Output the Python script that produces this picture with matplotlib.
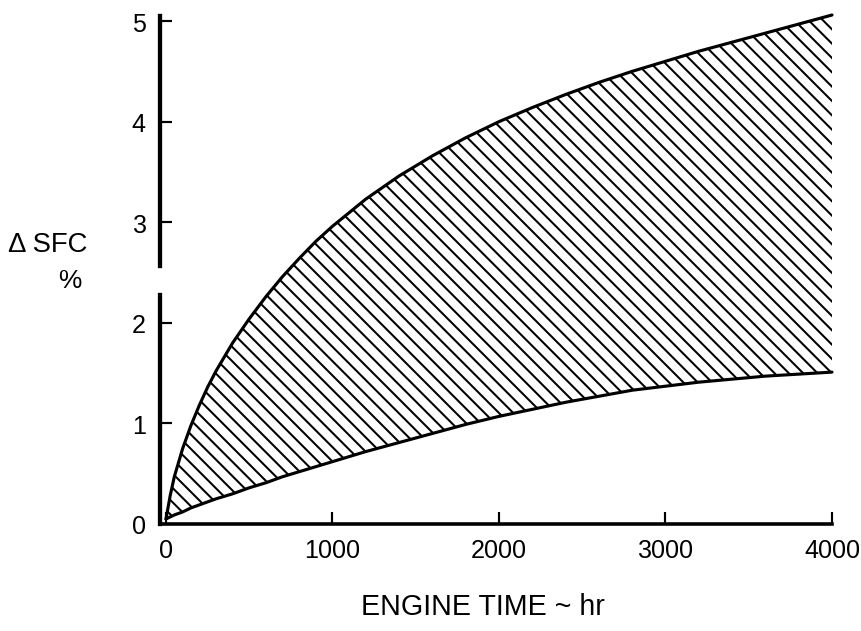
import matplotlib
matplotlib.use("Agg")
import matplotlib.pyplot as plt

# values
hours = [0, 25, 50, 100, 150, 200, 250, 300, 400, 500, 600, 700, 800, 900, 1000,
         1200, 1400, 1600, 1800, 2000, 2200, 2400, 2600, 2800, 3000, 3200, 3400,
         3600, 3800, 4000]
sfc_upper = [0.05, 0.28, 0.47, 0.75, 0.98, 1.18, 1.36, 1.52, 1.80, 2.04, 2.26, 2.46,
             2.64, 2.81, 2.96, 3.23, 3.46, 3.66, 3.84, 4.00, 4.14, 4.27, 4.39, 4.50,
             4.60, 4.70, 4.79, 4.88, 4.97, 5.06]
sfc_lower = [0.05, 0.07, 0.09, 0.12, 0.16, 0.19, 0.22, 0.25, 0.30, 0.36, 0.41, 0.47,
             0.52, 0.57, 0.62, 0.72, 0.81, 0.90, 0.99, 1.07, 1.14, 1.21, 1.27, 1.33,
             1.37, 1.41, 1.44, 1.47, 1.49, 1.51]

x_ticks = [0, 1000, 2000, 3000, 4000]
y_ticks = [0, 1, 2, 3, 4, 5]
axis_break = (2.28, 2.56)

plt.rcParams["font.family"] = ["Liberation Sans", "DejaVu Sans"]
plt.rcParams["hatch.linewidth"] = 1.7
plt.rcParams["hatch.color"] = "black"

DPI = 86.1
fig = plt.figure(figsize=(10, 7.34), dpi=DPI)
ax = fig.add_axes([160 / 861, 1 - 525 / 632, 672 / 861, (525 - 17) / 632])

# hatched band between the two curves
ax.fill_between(hours, sfc_lower, sfc_upper, facecolor="none", edgecolor="black",
                hatch="\\\\", linewidth=0)
ax.plot(hours, sfc_upper, color="black", lw=2.6, solid_capstyle="round", clip_on=False)
ax.plot(hours, sfc_lower, color="black", lw=2.6, solid_capstyle="round", clip_on=False)

ax.set_xlim(-36, 4000)
ax.set_ylim(0, 5.05)

for s in ["top", "right"]:
    ax.spines[s].set_visible(False)
ax.spines["bottom"].set_linewidth(3)
ax.spines["left"].set_linewidth(3.6)
# broken y axis between 2 and 3
ax.spines["left"].set_bounds(axis_break[1], 5.05)
ax.axvline(-36, ymin=0, ymax=axis_break[0] / 5.05, color="black", lw=3.6, clip_on=False)

ax.set_xticks(x_ticks)
ax.set_xticklabels([str(v) for v in x_ticks])
ax.set_yticks(y_ticks)
ax.set_yticklabels([str(v) for v in y_ticks])
ax.tick_params(direction="in", length=10, width=1.8, labelsize=21, pad=12)

ax.set_xlabel("ENGINE TIME ~ hr", fontsize=24)
ax.xaxis.set_label_coords((483 - 160) / 672, (525 - 607) / 508)
ax.xaxis.label.set_va("center")

fig.text(48 / 861, 1 - 245 / 632, "Δ SFC", fontsize=23, ha="center", va="center")
fig.text(70 / 861, 1 - 281 / 632, "%", fontsize=22, ha="center", va="center")

fig.savefig("out.png", dpi=DPI)
